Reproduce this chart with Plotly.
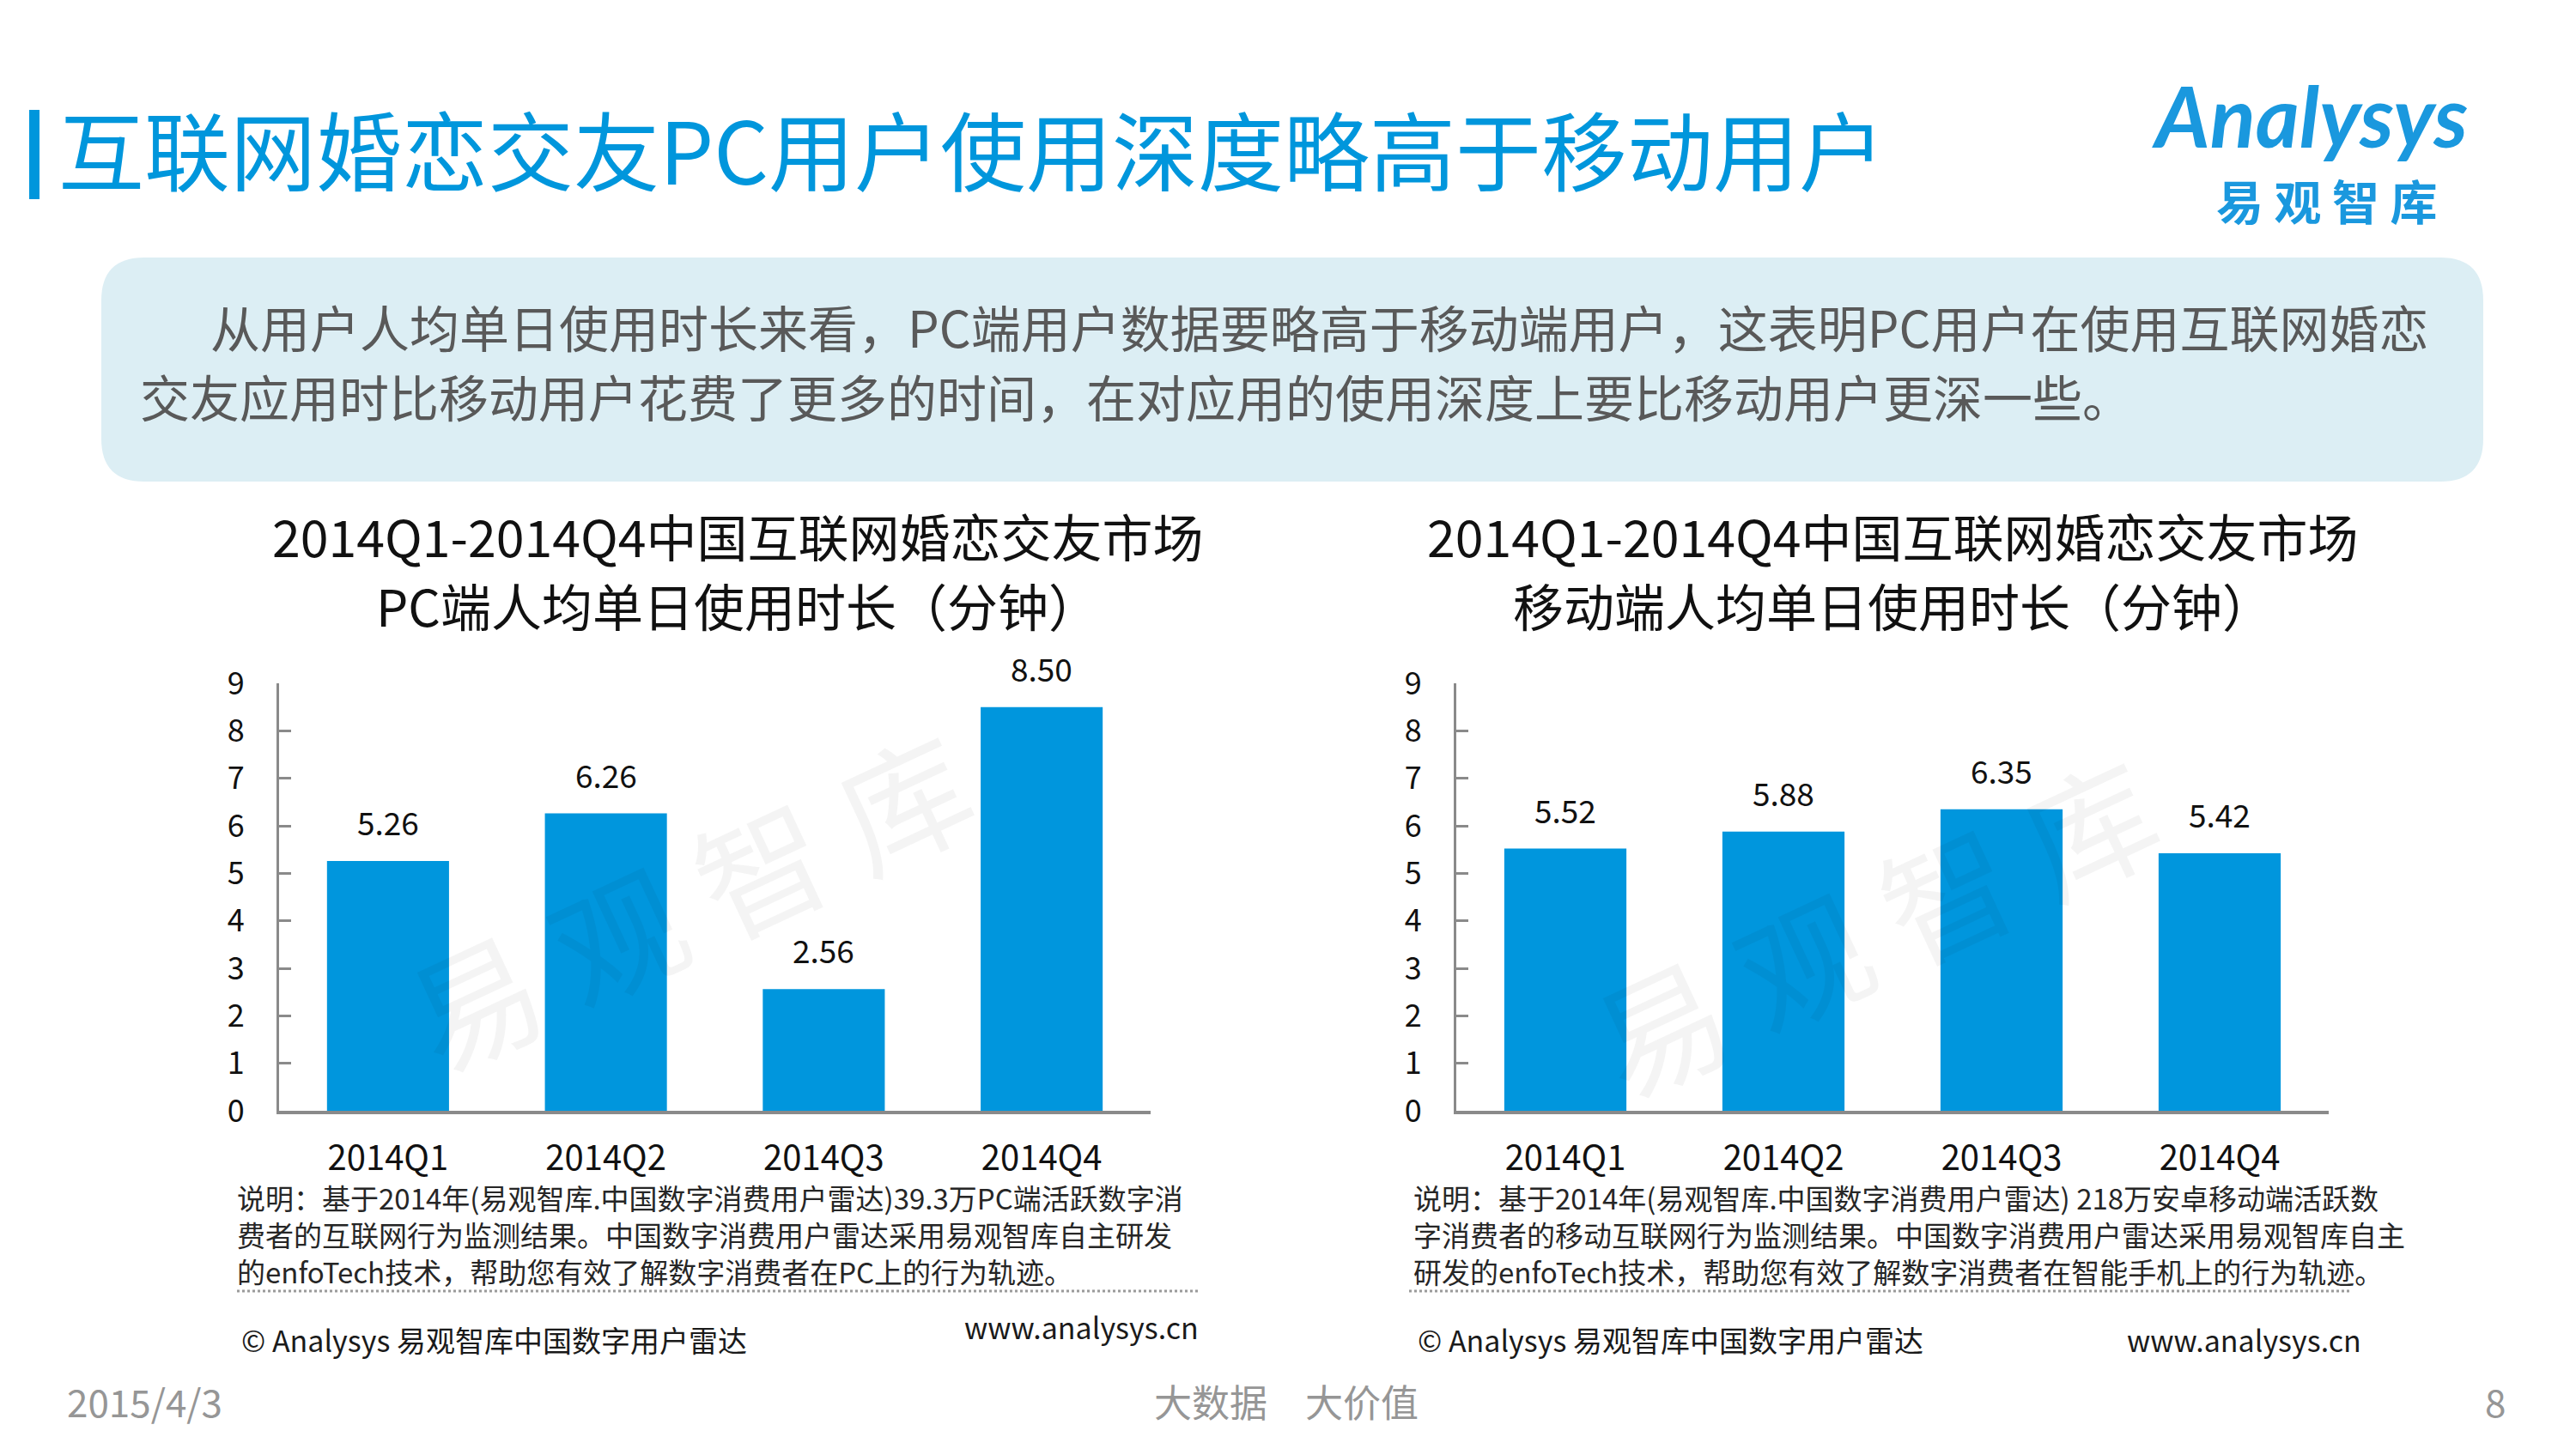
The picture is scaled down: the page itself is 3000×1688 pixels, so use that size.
import plotly.graph_objects as go

W, H = 3000, 1688

# ---------------- data ----------------
quarters = ["2014Q1", "2014Q2", "2014Q3", "2014Q4"]
pc_minutes = [5.26, 6.26, 2.56, 8.50]
mobile_minutes = [5.52, 5.88, 6.35, 5.42]
y_tick_values = [0, 1, 2, 3, 4, 5, 6, 7, 8, 9]

page_title = "互联网婚恋交友PC用户使用深度略高于移动用户"
intro_lines = [
    "从用户人均单日使用时长来看，PC端用户数据要略高于移动端用户，这表明PC用户在使用互联网婚恋",
    "交友应用时比移动用户花费了更多的时间，在对应用的使用深度上要比移动用户更深一些。",
]
pc_title = ["2014Q1-2014Q4中国互联网婚恋交友市场", "PC端人均单日使用时长（分钟）"]
mobile_title = ["2014Q1-2014Q4中国互联网婚恋交友市场", "移动端人均单日使用时长（分钟）"]
pc_note = [
    "说明：基于2014年(易观智库.中国数字消费用户雷达)39.3万PC端活跃数字消",
    "费者的互联网行为监测结果。中国数字消费用户雷达采用易观智库自主研发",
    "的enfoTech技术，帮助您有效了解数字消费者在PC上的行为轨迹。",
]
mobile_note = [
    "说明：基于2014年(易观智库.中国数字消费用户雷达) 218万安卓移动端活跃数",
    "字消费者的移动互联网行为监测结果。中国数字消费用户雷达采用易观智库自主",
    "研发的enfoTech技术，帮助您有效了解数字消费者在智能手机上的行为轨迹。",
]
source_text = "© Analysys 易观智库中国数字用户雷达"
site_text = "www.analysys.cn"
footer_date = "2015/4/3"
footer_slogan = "大数据　大价值"
footer_page = "8"
watermark = "易 观 智 库"
logo_en = "Analysys"
logo_cn = "易 观 智 库"

# ---------------- style ----------------
FONT = "Noto Sans CJK SC, Noto Sans, sans-serif"
BLUE = "#0096DC"
BAR_BLUE = "#0096DD"
AXIS_GRAY = "#8A8A8A"
TEXT_DARK = "#111111"
PAGE_OFFSET = 8  # browser body margin


def X(px):
    return (px - PAGE_OFFSET) / W


def Y(py):
    return 1 - (py - PAGE_OFFSET) / H


fig = go.Figure()

fig.add_trace(go.Bar(x=quarters, y=pc_minutes, marker=dict(color=BAR_BLUE, line=dict(width=0)),
                     xaxis="x", yaxis="y", showlegend=False, hoverinfo="x+y"))
fig.add_trace(go.Bar(x=quarters, y=mobile_minutes, marker=dict(color=BAR_BLUE, line=dict(width=0)),
                     xaxis="x2", yaxis="y2", showlegend=False, hoverinfo="x+y"))

y_dom = [Y(1294), Y(796)]
xa = dict(showgrid=False, zeroline=False, showline=True, linecolor=AXIS_GRAY, linewidth=4,
          ticks="", tickfont=dict(family=FONT, size=40, color=TEXT_DARK),
          ticklabelstandoff=17, range=[-0.5, 3.5], fixedrange=True, automargin=False)
ya = dict(showgrid=False, zeroline=False, showline=True, linecolor=AXIS_GRAY, linewidth=3,
          ticks="inside", ticklen=14, tickwidth=3, tickcolor=AXIS_GRAY,
          tickvals=y_tick_values, range=[0, 9], domain=y_dom,
          tickfont=dict(family=FONT, size=36, color=TEXT_DARK), ticklabelstandoff=30,
          fixedrange=True, automargin=False)

fig.update_layout(
    template="none",
    width=W, height=H, autosize=False,
    margin=dict(l=0, r=0, t=0, b=0, pad=0, autoexpand=False),
    paper_bgcolor="white", plot_bgcolor="rgba(0,0,0,0)",
    bargap=0.44, showlegend=False,
    xaxis=dict(xa, domain=[X(325), X(1340)], anchor="y"),
    yaxis=dict(ya, anchor="x"),
    xaxis2=dict(xa, domain=[X(1696), X(2712)], anchor="y2"),
    yaxis2=dict(ya, anchor="x2"),
    font=dict(family=FONT),
)

ann = []
# data labels
for xr, yr, vals in (("x", "y", pc_minutes), ("x2", "y2", mobile_minutes)):
    for q, v in zip(quarters, vals):
        ann.append(dict(x=q, y=v, xref=xr, yref=yr, text=f"{v:.2f}", showarrow=False,
                        yanchor="middle", yshift=46,
                        font=dict(family=FONT, size=37, color=TEXT_DARK)))

# page title
ann.append(dict(x=X(66), y=Y(172), xref="paper", yref="paper", xanchor="left", yanchor="middle",
                text=page_title, showarrow=False, font=dict(family=FONT, size=100, color=BLUE)))
# logo
ann.append(dict(x=X(2690), y=Y(134), xref="paper", yref="paper", xanchor="center", yanchor="middle",
                text=logo_en, showarrow=False,
                font=dict(family="Lato, Noto Sans, sans-serif", size=98, color="#1A98DE",
                          weight="bold", style="italic")))
ann.append(dict(x=X(2709), y=Y(232), xref="paper", yref="paper", xanchor="center", yanchor="middle",
                text=logo_cn, showarrow=False,
                font=dict(family=FONT, size=55, color="#1A98DE", weight="bold")))

# intro text
ann.append(dict(x=X(243), y=Y(380), xref="paper", yref="paper", xanchor="left", yanchor="middle",
                text=intro_lines[0], showarrow=False, font=dict(family=FONT, size=58, color="#595959")))
ann.append(dict(x=X(161), y=Y(461), xref="paper", yref="paper", xanchor="left", yanchor="middle",
                text=intro_lines[1], showarrow=False, font=dict(family=FONT, size=58, color="#595959")))

# chart titles
for cx, lines in ((859, pc_title), (2204, mobile_title)):
    for i, line in enumerate(lines):
        ann.append(dict(x=X(cx), y=Y(623 + 82 * i), xref="paper", yref="paper", xanchor="center",
                        yanchor="middle", text=line, showarrow=False,
                        font=dict(family=FONT, size=59, color=TEXT_DARK)))

# notes
for lx, lines in ((274, pc_note), (1644, mobile_note)):
    ann.append(dict(x=X(lx), y=Y(1438), xref="paper", yref="paper", xanchor="left",
                    yanchor="middle", text="<br>".join(lines), showarrow=False, align="left",
                    font=dict(family=FONT, size=33, color="#262626")))

# source lines
ann.append(dict(x=X(279), y=Y(1560), xref="paper", yref="paper", xanchor="left", yanchor="middle",
                text=source_text, showarrow=False, font=dict(family=FONT, size=34, color="#1a1a1a")))
ann.append(dict(x=X(1649), y=Y(1560), xref="paper", yref="paper", xanchor="left", yanchor="middle",
                text=source_text, showarrow=False, font=dict(family=FONT, size=34, color="#1a1a1a")))
ann.append(dict(x=X(1398), y=Y(1545), xref="paper", yref="paper", xanchor="right", yanchor="middle",
                text=site_text, showarrow=False, font=dict(family=FONT, size=34, color="#1a1a1a")))
ann.append(dict(x=X(2752), y=Y(1560), xref="paper", yref="paper", xanchor="right", yanchor="middle",
                text=site_text, showarrow=False, font=dict(family=FONT, size=34, color="#1a1a1a")))

# footer
ann.append(dict(x=X(76), y=Y(1632), xref="paper", yref="paper", xanchor="left", yanchor="middle",
                text=footer_date, showarrow=False, font=dict(family=FONT, size=44, color="#969696")))
ann.append(dict(x=X(1498), y=Y(1632), xref="paper", yref="paper", xanchor="center", yanchor="middle",
                text=footer_slogan, showarrow=False, font=dict(family=FONT, size=44, color="#969696")))
ann.append(dict(x=X(2906), y=Y(1632), xref="paper", yref="paper", xanchor="center", yanchor="middle",
                text=footer_page, showarrow=False, font=dict(family=FONT, size=44, color="#969696")))

# watermarks
for cx, cy in ((800, 1045), (2181, 1075)):
    ann.append(dict(x=X(cx), y=Y(cy), xref="paper", yref="paper", xanchor="center", yanchor="middle",
                    text=watermark, showarrow=False, textangle=-25,
                    font=dict(family=FONT, size=150, color="rgba(0,0,0,0.045)")))

fig.update_layout(annotations=ann)

# shapes
shapes = []
# title accent bar
shapes.append(dict(type="rect", xref="paper", yref="paper", x0=X(34), x1=X(46), y0=Y(232), y1=Y(128),
                   fillcolor=BLUE, line=dict(width=0), layer="below"))
# rounded intro box
x0, x1, y0, y1, r = 118, 2892, 300, 561, 50
path = (f"M {X(x0 + r)},{Y(y0)} L {X(x1 - r)},{Y(y0)} Q {X(x1)},{Y(y0)} {X(x1)},{Y(y0 + r)} "
        f"L {X(x1)},{Y(y1 - r)} Q {X(x1)},{Y(y1)} {X(x1 - r)},{Y(y1)} "
        f"L {X(x0 + r)},{Y(y1)} Q {X(x0)},{Y(y1)} {X(x0)},{Y(y1 - r)} "
        f"L {X(x0)},{Y(y0 + r)} Q {X(x0)},{Y(y0)} {X(x0 + r)},{Y(y0)} Z")
shapes.append(dict(type="path", xref="paper", yref="paper", path=path, fillcolor="#DCEEF4",
                   line=dict(width=0), layer="below"))
# dotted separators
for a, b in ((276, 1397), (1641, 2736)):
    shapes.append(dict(type="line", xref="paper", yref="paper", x0=X(a), x1=X(b), y0=Y(1504), y1=Y(1504),
                       line=dict(color="#9A9A9A", width=3, dash="dot")))
fig.update_layout(shapes=shapes)

fig.write_html("out.html")
